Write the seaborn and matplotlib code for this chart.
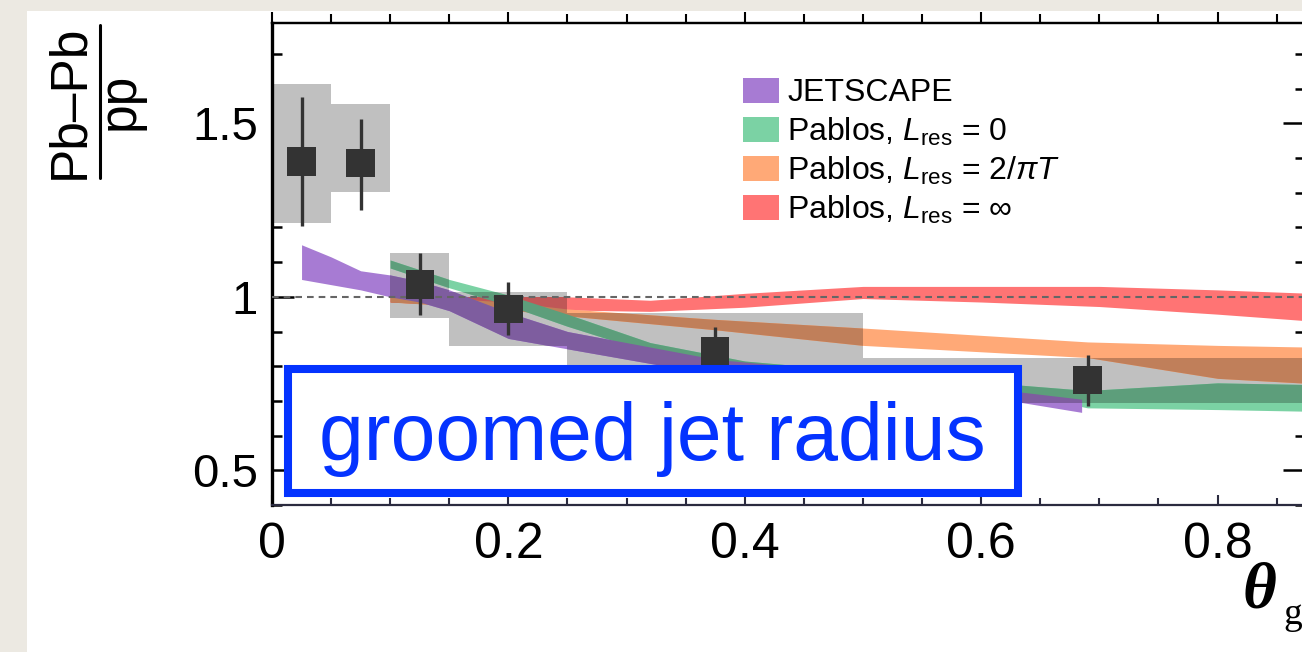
import numpy as np
import pandas as pd
import matplotlib
matplotlib.use("Agg")
import matplotlib.pyplot as plt
import matplotlib.colors as mcolors
import seaborn as sns
from matplotlib.patches import Rectangle, Patch
from matplotlib.path import Path
from matplotlib.lines import Line2D
from matplotlib.ticker import FixedLocator, MultipleLocator

# ---- measured Pb-Pb / pp ratio of the groomed jet radius ----
bin_edges = [0.0, 0.05, 0.10, 0.15, 0.25, 0.50, 0.88]
ratio = [1.39, 1.385, 1.035, 0.965, 0.843, 0.76]
stat_lo = [1.205, 1.25, 0.948, 0.89, 0.772, 0.685]
stat_hi = [1.576, 1.513, 1.126, 1.043, 0.914, 0.833]
sys_lo = [1.213, 1.303, 0.94, 0.857, 0.732, 0.695]
sys_hi = [1.614, 1.555, 1.126, 1.015, 0.954, 0.825]

# ---- model bands ----
jetscape_x = [0.025, 0.05, 0.075, 0.10, 0.125, 0.15, 0.20, 0.25, 0.375, 0.50, 0.635, 0.685]
jetscape_lo = [1.05, 1.035, 1.02, 1.0, 0.985, 0.96, 0.88, 0.85, 0.775, 0.735, 0.695, 0.667]
jetscape_hi = [1.15, 1.115, 1.075, 1.063, 1.045, 1.02, 0.955, 0.90, 0.82, 0.78, 0.725, 0.705]

pablos0_x = [0.10, 0.15, 0.20, 0.25, 0.32, 0.40, 0.50, 0.635, 0.69, 0.80, 0.88]
pablos0_lo = [1.083, 1.026, 0.975, 0.915, 0.84, 0.79, 0.755, 0.72, 0.68, 0.675, 0.67]
pablos0_hi = [1.106, 1.05, 1.005, 0.95, 0.868, 0.815, 0.785, 0.745, 0.73, 0.752, 0.747]

pablos2_x = [0.10, 0.15, 0.20, 0.25, 0.375, 0.50, 0.69, 0.80, 0.88]
pablos2_lo = [0.985, 0.975, 0.962, 0.945, 0.905, 0.86, 0.825, 0.765, 0.75]
pablos2_hi = [1.0, 0.995, 0.985, 0.965, 0.935, 0.91, 0.87, 0.86, 0.855]

pablosinf_x = [0.10, 0.15, 0.20, 0.25, 0.32, 0.40, 0.50, 0.60, 0.70, 0.80, 0.88]
pablosinf_lo = [0.985, 0.978, 0.97, 0.962, 0.958, 0.97, 0.995, 0.985, 0.972, 0.95, 0.93]
pablosinf_hi = [1.0, 1.0, 1.0, 1.0, 0.99, 1.01, 1.03, 1.03, 1.03, 1.02, 1.01]

model_labels = [
    "JETSCAPE",
    r"Pablos, $L_{\rm res}$ = 0",
    r"Pablos, $L_{\rm res}$ = 2/$\pi T$",
    r"Pablos, $L_{\rm res}$ = ∞",
]
model_colors = ["#A77BD3", "#7BD2A4", "#FFA977", "#FF7474"]

x_ticks = [0.0, 0.2, 0.4, 0.6, 0.8]
x_ticklabels = ["0", "0.2", "0.4", "0.6", "0.8"]
y_ticks = [0.5, 1.0, 1.5]
y_ticklabels = ["0.5", "1", "1.5"]

# ---------------------------------------------------------------
sns.set_theme(style="ticks")
plt.rcParams["font.family"] = ["Liberation Sans", "DejaVu Sans"]
plt.rcParams["mathtext.fontset"] = "custom"
plt.rcParams["mathtext.rm"] = "Liberation Sans"
plt.rcParams["mathtext.it"] = "Liberation Sans:italic"
plt.rcParams["mathtext.bf"] = "Liberation Sans:bold"
plt.rcParams["text.color"] = "black"

W, H = 1302, 652
fig = plt.figure(figsize=(W / 100, H / 100), dpi=100)
fig.patch.set_facecolor("#ECE9E2")


def fx(px):
    return px / W


def fy(py):
    return 1 - py / H


# white page behind the plot
fig.add_artist(Rectangle((fx(27), 0), 1 - fx(27), fy(11), transform=fig.transFigure,
                         facecolor="white", edgecolor="none", zorder=-10))

ax = fig.add_axes([fx(272), fy(505), fx(1305) - fx(272), fy(22.7) - fy(505)])
ax.set_facecolor("white")

edges = np.array(bin_edges)
centers = 0.5 * (edges[:-1] + edges[1:])
widths = np.diff(edges)

df = pd.DataFrame({"theta": centers, "ratio": ratio,
                   "stat_lo": stat_lo, "stat_hi": stat_hi,
                   "sys_lo": sys_lo, "sys_hi": sys_hi})

# systematic boxes
ax.bar(edges[:-1], df["sys_hi"] - df["sys_lo"], width=widths, bottom=df["sys_lo"],
       align="edge", color="#C0C0C0", linewidth=0, zorder=1)

box_path = Path.make_compound_path(*[
    Path([(x0, lo), (x0 + w, lo), (x0 + w, hi), (x0, hi), (x0, lo)], closed=True)
    for x0, w, lo, hi in zip(edges[:-1], widths, sys_lo, sys_hi)
])

bands = [
    (pablosinf_x, pablosinf_lo, pablosinf_hi, model_colors[3]),
    (pablos2_x, pablos2_lo, pablos2_hi, model_colors[2]),
    (pablos0_x, pablos0_lo, pablos0_hi, model_colors[1]),
    (jetscape_x, jetscape_lo, jetscape_hi, model_colors[0]),
]
for bx, blo, bhi, col in bands:
    ax.fill_between(bx, blo, bhi, color=col, linewidth=0, zorder=2)
    # darker copy where the band sits on a grey box (multiplied colours)
    dark = tuple(np.array(mcolors.to_rgb(col)) * 0.753)
    inner = ax.fill_between(bx, blo, bhi, color=dark, linewidth=0, zorder=3)
    inner.set_clip_path(box_path, ax.transData)

ax.axhline(1.0, color="#666666", lw=1.5, dashes=(3.2, 2.4), zorder=4)

# statistical error bars and points
ax.vlines(df["theta"], df["stat_lo"], df["stat_hi"], color="#333333", lw=2.4, zorder=5)
sns.scatterplot(data=df, x="theta", y="ratio", marker="s", s=420, color="#333333",
                edgecolor="none", linewidth=0, zorder=6, ax=ax, legend=False)

ax.set_xlim(0, 0.874)
ax.set_ylim(0.4, 1.79)
ax.set_xlabel("")
ax.set_ylabel("")

ax.xaxis.set_major_locator(FixedLocator(x_ticks))
ax.set_xticklabels(x_ticklabels)
ax.xaxis.set_minor_locator(MultipleLocator(0.05))
ax.yaxis.set_major_locator(FixedLocator(y_ticks))
ax.set_yticklabels(y_ticklabels)
ax.yaxis.set_minor_locator(MultipleLocator(0.1))

ax.tick_params(axis="x", which="major", direction="in", length=7.5, width=1.5,
               pad=12, labelsize=36, color="#2b2b3f", labelcolor="black", top=False)
ax.tick_params(axis="x", which="minor", direction="in", length=5, width=1.5,
               color="#2b2b3f", top=False)
ax.tick_params(axis="y", which="major", direction="in", length=16, width=1.8,
               pad=10, labelsize=34, color="black", labelcolor="black", right=False)
ax.tick_params(axis="y", which="minor", direction="in", length=7.2, width=1.8,
               color="black", right=False)

for s in ["left", "bottom", "top", "right"]:
    ax.spines[s].set_visible(True)
ax.spines["left"].set_linewidth(2.4)
ax.spines["left"].set_color("black")
ax.spines["bottom"].set_linewidth(1.6)
ax.spines["bottom"].set_color("#2b2b3f")
ax.spines["top"].set_linewidth(1.6)
ax.spines["top"].set_color("black")

secx = ax.secondary_xaxis("top")
secx.xaxis.set_major_locator(FixedLocator(x_ticks))
secx.xaxis.set_minor_locator(MultipleLocator(0.05))
secx.tick_params(axis="x", which="major", direction="out", length=8, width=1.5,
                 color="black", labeltop=False, labelbottom=False)
secx.tick_params(axis="x", which="minor", direction="out", length=6.5, width=1.5,
                 color="black")
secx.spines["top"].set_linewidth(1.6)
secx.spines["top"].set_color("black")

secy = ax.secondary_yaxis("right")
secy.yaxis.set_major_locator(FixedLocator(y_ticks))
secy.yaxis.set_minor_locator(MultipleLocator(0.1))
secy.tick_params(axis="y", which="major", direction="in", length=16, width=1.8,
                 color="black", labelright=False, labelleft=False)
secy.tick_params(axis="y", which="minor", direction="in", length=7.2, width=1.8,
                 color="black")

# legend
handles = [Patch(facecolor=c, edgecolor="none", label=l)
           for c, l in zip(model_colors, model_labels)]
leg = ax.legend(handles=handles, loc="upper left", bbox_to_anchor=(fx(743), fy(78)),
                bbox_transform=fig.transFigure, frameon=False,
                prop={"family": ["Liberation Sans", "DejaVu Sans"], "size": 23},
                handlelength=1.13, handleheight=0.81, handletextpad=0.25,
                labelspacing=0.22, borderpad=0, borderaxespad=0)
for t in leg.get_texts():
    t.set_color("black")

# y-axis title as a stacked fraction
fig.text(fx(83), fy(101.5), "Pb–Pb", rotation=90, rotation_mode="anchor",
         ha="center", va="baseline", fontsize=37, color="black")
fig.text(fx(134), fy(101.5), "pp", rotation=90, rotation_mode="anchor",
         ha="center", va="baseline", fontsize=37, color="black")
fig.add_artist(Line2D([fx(100), fx(100)], [fy(25), fy(178)], transform=fig.transFigure,
                      color="black", lw=2.2))

# x-axis title
fig.text(fx(1243), fy(607), "θ", family="Liberation Serif", style="italic",
         weight="bold", fontsize=47, ha="left", va="baseline", color="black")
fig.text(fx(1283), fy(624), "g", family="Liberation Serif", fontsize=27,
         ha="left", va="baseline", color="black")

# caption box
fig.add_artist(Rectangle((fx(287.5), fy(492.5)), fx(1018) - fx(287.5), fy(369) - fy(492.5),
                         transform=fig.transFigure, facecolor="white",
                         edgecolor="#0433FF", lw=5.8, zorder=20))
fig.text(fx(652.5), fy(460), "groomed jet radius", ha="center", va="baseline",
         fontsize=58, color="#0433FF", zorder=21)

fig.savefig("out.png", dpi=100, facecolor=fig.get_facecolor())
